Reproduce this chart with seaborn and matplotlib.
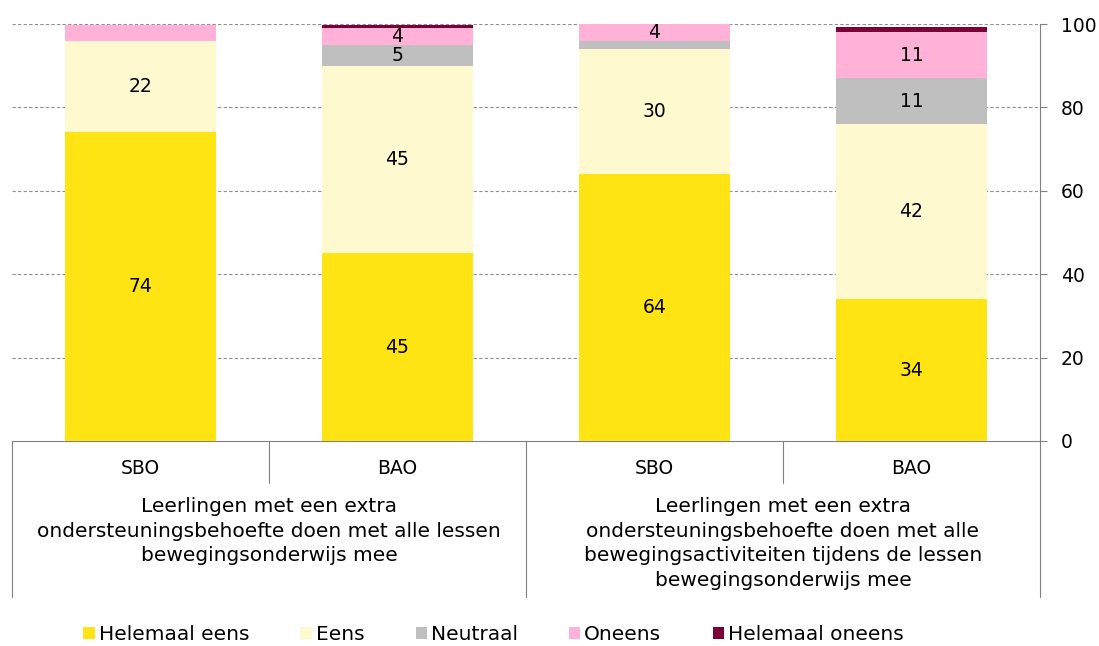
import matplotlib
matplotlib.use("Agg")
import matplotlib.pyplot as plt
import matplotlib.transforms as mtransforms
from matplotlib.patches import Patch
import seaborn as sns
import pandas as pd
import numpy as np

# ---- data ----
bars = ["SBO_1", "BAO_1", "SBO_2", "BAO_2"]
bar_labels = ["SBO", "BAO", "SBO", "BAO"]
group_labels = [
    "Leerlingen met een extra\nondersteuningsbehoefte doen met alle lessen\nbewegingsonderwijs mee",
    "Leerlingen met een extra\nondersteuningsbehoefte doen met alle\nbewegingsactiviteiten tijdens de lessen\nbewegingsonderwijs mee",
]
series = ["Helemaal eens", "Eens", "Neutraal", "Oneens", "Helemaal oneens"]
helemaal_eens = [74, 45, 64, 34]
eens = [22, 45, 30, 42]
neutraal = [0, 5, 2, 11]
oneens = [3.7, 4, 4, 11]
helemaal_oneens = [0, 0.8, 0, 1.4]
colors = ["#FFE414", "#FFF9D0", "#BFBFBF", "#FFB1D8", "#7A0037"]

values = [helemaal_eens, eens, neutraal, oneens, helemaal_oneens]

sns.set_theme(style="white")
plt.rcParams["font.family"] = ["DejaVu Sans"]
plt.rcParams["text.color"] = "black"
FS = 13.5
FS2 = 14.5

W, H = 1099, 646
fig = plt.figure(figsize=(W / 100, H / 100), dpi=100)
ax = fig.add_axes([12 / W, 1 - 441 / H, (1040 - 12) / W, (441 - 24) / H])

cum = np.zeros(len(bars))
cums = []
for v in values:
    cum = cum + np.array(v)
    cums.append(cum.copy())

# draw from top layer down so that lower layers cover
for i in range(len(series) - 1, -1, -1):
    d = pd.DataFrame({"bar": bars, "val": cums[i]})
    sns.barplot(data=d, x="bar", y="val", order=bars, color=colors[i],
                width=0.59, ax=ax, saturation=1, edgecolor="none", zorder=3)

# labels
for i, v in enumerate(values):
    for j, val in enumerate(v):
        if val >= 3.8:
            mid = cums[i][j] - val / 2
            ax.text(j, mid, f"{val:.0f}", ha="center", va="center",
                    fontsize=FS, color="black", zorder=5)

ax.set_xlim(-0.5, len(bars) - 0.5)
ax.set_ylim(0, 100)
ax.set_yticks([0, 20, 40, 60, 80, 100])
ax.yaxis.tick_right()
ax.tick_params(axis="y", which="both", right=True, length=5, width=0.8,
               color="#808080", labelsize=FS, labelcolor="black", pad=10)
ax.set_xticks([])
ax.set_xlabel("")
ax.set_ylabel("")
for y in [20, 40, 60, 80, 100]:
    ax.axhline(y, color="#909090", linestyle=(0, (3, 2)), linewidth=0.8, zorder=1)
for s in ["left", "top"]:
    ax.spines[s].set_visible(False)
ax.spines["right"].set_color("#808080")
ax.spines["bottom"].set_color("#808080")
ax.spines["right"].set_linewidth(0.8)
ax.spines["bottom"].set_linewidth(0.8)

# category table below
tr = mtransforms.blended_transform_factory(ax.transData, fig.transFigure)
def fy(py):
    return 1 - py / H

for j, lab in enumerate(bar_labels):
    ax.text(j, fy(469), lab, transform=tr, ha="center", va="center",
            fontsize=FS, color="black")
for g, lab in enumerate(group_labels):
    xc = 2 * g + 0.5
    ax.text(xc, fy(497), lab, transform=tr, ha="center", va="top",
            fontsize=FS2, linespacing=1.38, color="black")

line_kw = dict(color="#808080", linewidth=0.8, transform=tr, clip_on=False)
for xb in [-0.5, 1.5, 3.5]:
    ax.plot([xb, xb], [fy(441), fy(597)], **line_kw)
for xb in [0.5, 2.5]:
    ax.plot([xb, xb], [fy(441), fy(483)], **line_kw)

handles = [Patch(facecolor=c, edgecolor="none") for c in colors]
leg = fig.legend(handles, series, loc="center", bbox_to_anchor=(0.449, 1 - 635 / H),
                 ncol=5, frameon=False, fontsize=FS2, handlelength=0.55,
                 handleheight=0.55, handletextpad=0.2, columnspacing=2.55)
for t in leg.get_texts():
    t.set_color("black")

fig.savefig("out.png", dpi=100)
